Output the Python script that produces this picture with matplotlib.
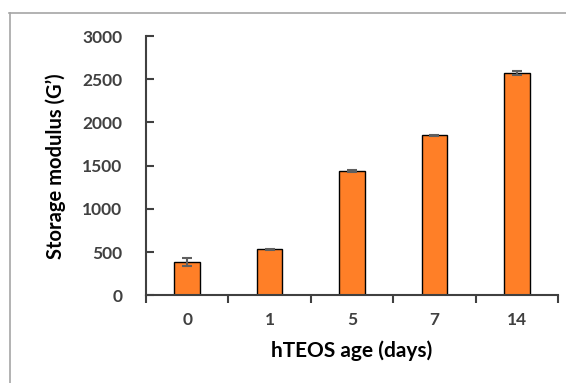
import numpy as np
import matplotlib.pyplot as plt
from matplotlib.lines import Line2D

ages = ['0', '1', '5', '7', '14']
modulus = [385, 535, 1440, 1850, 2570]
errors = [45, 8, 8, 8, 20]

plt.rcParams['font.family'] = ['Lato', 'DejaVu Sans']

fig = plt.figure(figsize=(5.66, 3.83), dpi=100)
ax = fig.add_axes([0.258, 0.2285, 0.728, 0.6775])

x = np.arange(len(ages))
ax.bar(x, modulus, width=0.31, color='#ff7f27', edgecolor='black', linewidth=1.0,
       yerr=errors, error_kw=dict(ecolor='#5f5f5f', elinewidth=1.5, capsize=3.5, capthick=1.5))

ax.set_xlim(-0.5, len(ages) - 0.5)
ax.set_ylim(0, 3000)
ax.set_yticks(range(0, 3001, 500))
ax.set_xticks(x)
ax.set_xticklabels(ages)
ax.set_xticks(np.arange(-0.5, len(ages), 1), minor=True)

ax.spines['top'].set_visible(False)
ax.spines['right'].set_visible(False)
for s in ['left', 'bottom']:
    ax.spines[s].set_color('#404040')
    ax.spines[s].set_linewidth(1.5)

ax.tick_params(axis='y', direction='in', length=6, width=1.5, color='#404040',
               labelsize=12.5, labelcolor='#404040', pad=17)
ax.tick_params(axis='x', which='major', length=0, labelsize=12.5, labelcolor='#404040', pad=12)
ax.tick_params(axis='x', which='minor', direction='out', length=6, width=1.5, color='#404040')
for lbl in ax.get_xticklabels() + ax.get_yticklabels():
    lbl.set_fontweight('bold')

ax.set_xlabel('hTEOS age (days)', fontsize=15, fontweight='bold', labelpad=9)
ax.set_ylabel('Storage modulus (G\u2019)', fontsize=14.5, fontweight='bold', labelpad=12)

# frame lines around the figure (top and left)
fig.add_artist(Line2D([9 / 566, 1], [1 - 13 / 383, 1 - 13 / 383], color='#a6a6a6', lw=1.2))
fig.add_artist(Line2D([10 / 566, 10 / 566], [0, 1 - 13 / 383], color='#a6a6a6', lw=1.2))

fig.savefig('out.png', dpi=100)
